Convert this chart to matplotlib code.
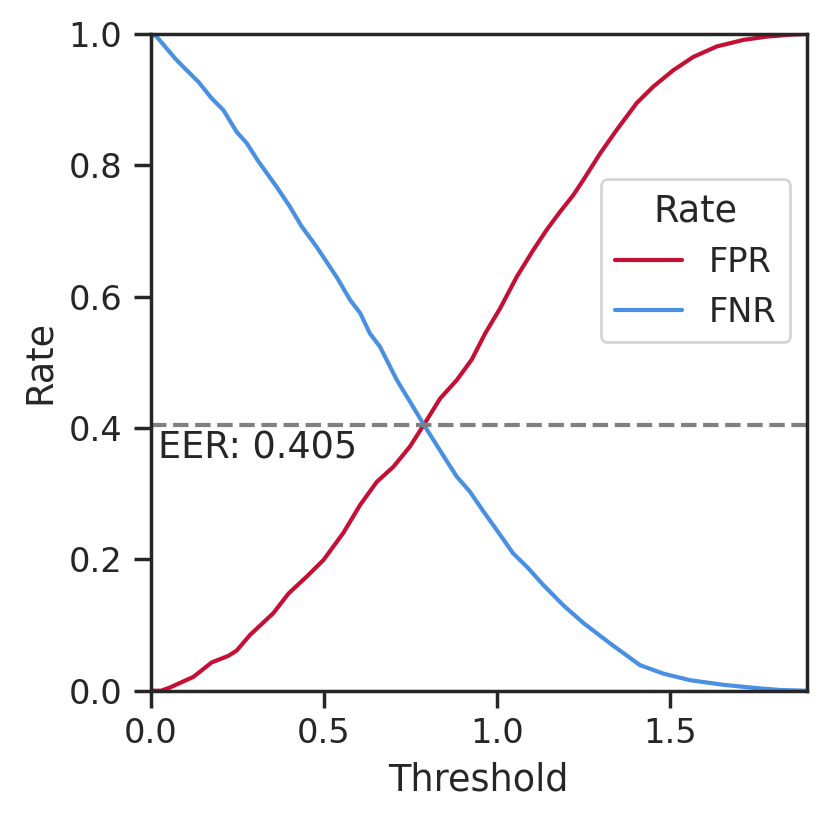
import matplotlib
matplotlib.use("Agg")
import matplotlib.pyplot as plt
import seaborn as sns

# FPR / FNR curves
fpr_thr = [0.0, 0.03, 0.056, 0.123, 0.176, 0.224, 0.248, 0.287, 0.354, 0.398,
           0.451, 0.499, 0.556, 0.605, 0.653, 0.701, 0.749, 0.789, 0.836, 0.884,
           0.927, 0.966, 1.009, 1.057, 1.105, 1.144, 1.182, 1.221, 1.250, 1.298,
           1.346, 1.404, 1.452, 1.510, 1.567, 1.635, 1.712, 1.779, 1.850, 1.895]
fpr_val = [0.0, 0.0, 0.005, 0.021, 0.043, 0.053, 0.061, 0.085, 0.118, 0.148,
           0.174, 0.199, 0.240, 0.283, 0.318, 0.341, 0.372, 0.405, 0.445, 0.473,
           0.504, 0.544, 0.582, 0.630, 0.671, 0.702, 0.729, 0.755, 0.778, 0.818,
           0.854, 0.895, 0.920, 0.945, 0.965, 0.981, 0.991, 0.996, 0.999, 1.0]

fnr_thr = [0.0, 0.017, 0.070, 0.094, 0.138, 0.176, 0.210, 0.248, 0.277, 0.311,
           0.364, 0.402, 0.436, 0.479, 0.537, 0.576, 0.605, 0.633, 0.662, 0.686,
           0.711, 0.749, 0.789, 0.845, 0.884, 0.922, 0.961, 0.999, 1.047, 1.086,
           1.134, 1.192, 1.250, 1.327, 1.413, 1.481, 1.558, 1.654, 1.750, 1.820,
           1.895]
fnr_val = [1.0, 0.996, 0.963, 0.950, 0.927, 0.902, 0.884, 0.851, 0.834, 0.806,
           0.767, 0.737, 0.707, 0.676, 0.630, 0.595, 0.575, 0.544, 0.524, 0.499,
           0.473, 0.440, 0.405, 0.358, 0.326, 0.303, 0.273, 0.245, 0.209, 0.189,
           0.161, 0.130, 0.103, 0.072, 0.039, 0.026, 0.016, 0.009, 0.004, 0.001,
           0.0]

eer = 0.405

sns.set_theme(context="notebook", style="ticks", font_scale=1.1)
plt.rcParams["ytick.major.pad"] = 4.2

fig = plt.figure(figsize=(4.15, 4.105), dpi=200)
ax = fig.add_axes([0.1816, 0.1587, 0.7904, 0.7999])

ax.plot(fpr_thr, fpr_val, color="#c41034", lw=1.5, label="FPR")
ax.plot(fnr_thr, fnr_val, color="#4a90e2", lw=1.5, label="FNR")
ax.axhline(eer, color="gray", ls="--", lw=1.5)
ax.text(0.02, eer - 0.051, f"EER: {eer:.3f}", va="baseline", ha="left")

ax.set_xlim(0, 1.895)
ax.set_ylim(0, 1)
ax.set_xticks([0.0, 0.5, 1.0, 1.5])
ax.set_xlabel("Threshold")
ax.set_ylabel("Rate")
ax.legend(title="Rate", loc="upper right", bbox_to_anchor=(1, 0.805))

fig.savefig("out.png", dpi=200)
